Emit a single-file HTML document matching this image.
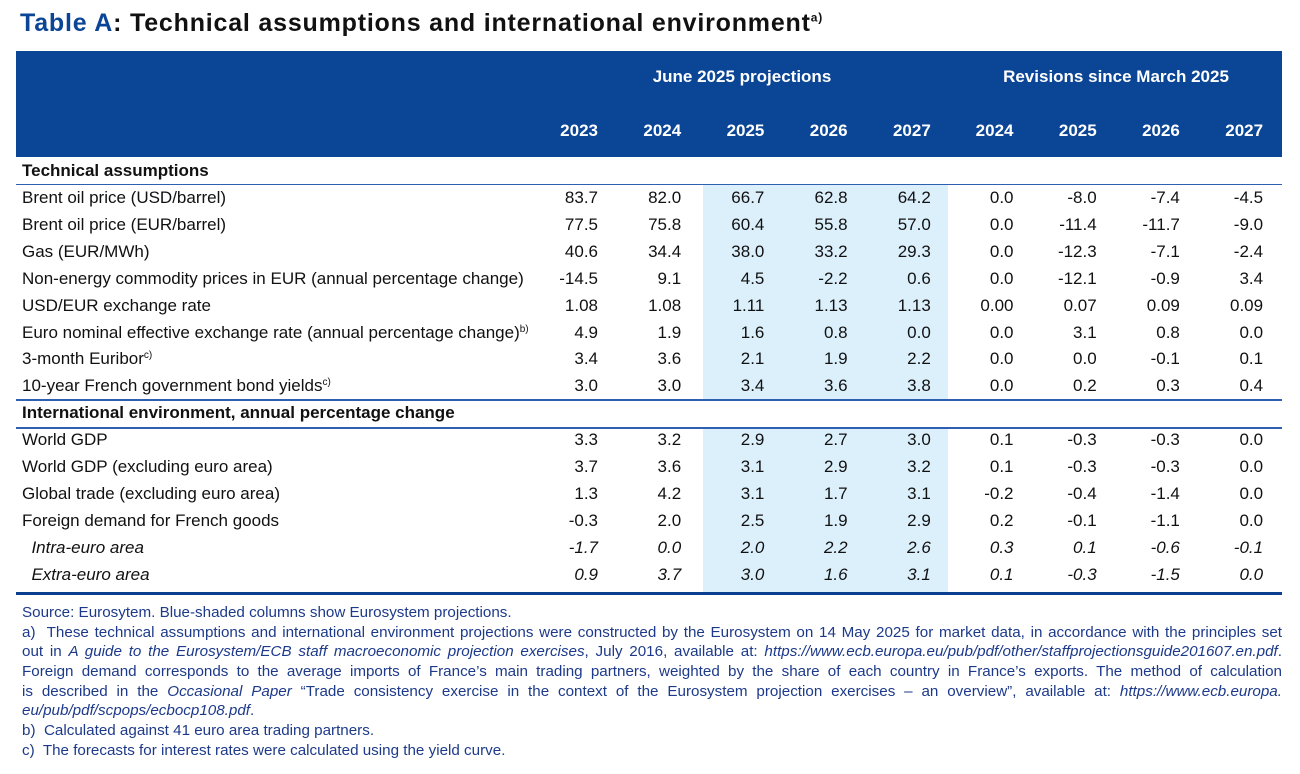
<!DOCTYPE html>
<html><head><meta charset="utf-8"><style>
body{margin:0;width:1300px;height:774px;background:#fff;font-family:"Liberation Sans",Arial,sans-serif;position:relative;overflow:hidden;color:#111}
.a{position:absolute;white-space:nowrap}
.t{font-size:17px;line-height:20px;transform:translateY(-10px)}
.t sup{font-size:10px;line-height:0;vertical-align:6px}
.n{text-align:right;width:100px}
.fn{position:absolute;left:22px;width:1260px;font-size:15.2px;line-height:18px;color:#1d3a8a;white-space:nowrap}
.j{text-align:justify;text-align-last:justify;white-space:normal}
</style></head><body>
<div class="a" style="left:20px;top:9px;font-size:25px;font-weight:bold;letter-spacing:0.8px"><span style="color:#0b4596">Table A</span>: Technical assumptions and international environment<sup style="font-size:12px;line-height:0">a)</sup></div>
<div class="a" style="left:16px;top:51px;width:1266px;height:106px;background:#0b4596"></div>
<div class="a" style="left:703px;top:185px;width:245px;height:214px;background:#dcf0fc"></div>
<div class="a" style="left:703px;top:428px;width:245px;height:164px;background:#dcf0fc"></div>
<div class="a" style="left:642px;top:67px;width:200px;text-align:center;color:#fff;font-weight:bold;font-size:17px">June 2025 projections</div>
<div class="a" style="left:966px;top:67px;width:300px;text-align:center;color:#fff;font-weight:bold;font-size:17px">Revisions since March 2025</div>
<div id="tbl"></div>
<div class="a" style="left:16px;top:184px;width:1266px;height:1px;background:#2f5fb0"></div>
<div class="a" style="left:16px;top:399px;width:1266px;height:1.5px;background:#2f5fb0"></div>
<div class="a" style="left:16px;top:427px;width:1266px;height:1.5px;background:#2f5fb0"></div>
<div class="a" style="left:16px;top:592px;width:1266px;height:2.5px;background:#0b3f8f"></div>

<div class="fn" style="top:604px">Source: Eurosytem. Blue-shaded columns show Eurosystem projections.</div>
<div class="fn j" style="top:624px;height:18px">a)&nbsp; These technical assumptions and international environment projections were constructed by the Eurosystem on 14 May 2025 for market data, in accordance with the principles set</div>
<div class="fn j" style="top:643px;height:18px">out in <i>A guide to the Eurosystem/ECB staff macroeconomic projection exercises</i>, July 2016, available at: <i>https://www.ecb.europa.eu/pub/pdf/other/staffprojectionsguide201607.en.pdf</i>.</div>
<div class="fn j" style="top:663px;height:18px">Foreign demand corresponds to the average imports of France’s main trading partners, weighted by the share of each country in France’s exports. The method of calculation</div>
<div class="fn j" style="top:683px;height:18px">is described in the <i>Occasional Paper</i> “Trade consistency exercise in the context of the Eurosystem projection exercises – an overview”, available at: <i>https://www.ecb.europa.</i></div>
<div class="fn" style="top:702px"><i>eu/pub/pdf/scpops/ecbocp108.pdf</i>.</div>
<div class="fn" style="top:722px">b)&nbsp; Calculated against 41 euro area trading partners.</div>
<div class="fn" style="top:742px">c)&nbsp; The forecasts for interest rates were calculated using the yield curve.</div>

<script>
const years=["2023","2024","2025","2026","2027","2024","2025","2026","2027"];
const labels=["Brent oil price (USD/barrel)","Brent oil price (EUR/barrel)","Gas (EUR/MWh)","Non-energy commodity prices in EUR (annual percentage change)","USD/EUR exchange rate","Euro nominal effective exchange rate (annual percentage change)<sup>b)</sup>","3-month Euribor<sup>c)</sup>","10-year French government bond yields<sup>c)</sup>"];
const values=[
["83.7","82.0","66.7","62.8","64.2","0.0","-8.0","-7.4","-4.5"],
["77.5","75.8","60.4","55.8","57.0","0.0","-11.4","-11.7","-9.0"],
["40.6","34.4","38.0","33.2","29.3","0.0","-12.3","-7.1","-2.4"],
["-14.5","9.1","4.5","-2.2","0.6","0.0","-12.1","-0.9","3.4"],
["1.08","1.08","1.11","1.13","1.13","0.00","0.07","0.09","0.09"],
["4.9","1.9","1.6","0.8","0.0","0.0","3.1","0.8","0.0"],
["3.4","3.6","2.1","1.9","2.2","0.0","0.0","-0.1","0.1"],
["3.0","3.0","3.4","3.6","3.8","0.0","0.2","0.3","0.4"]];
const labels2=["World GDP","World GDP (excluding euro area)","Global trade (excluding euro area)","Foreign demand for French goods","Intra-euro area","Extra-euro area"];
const values2=[
["3.3","3.2","2.9","2.7","3.0","0.1","-0.3","-0.3","0.0"],
["3.7","3.6","3.1","2.9","3.2","0.1","-0.3","-0.3","0.0"],
["1.3","4.2","3.1","1.7","3.1","-0.2","-0.4","-1.4","0.0"],
["-0.3","2.0","2.5","1.9","2.9","0.2","-0.1","-1.1","0.0"],
["-1.7","0.0","2.0","2.2","2.6","0.3","0.1","-0.6","-0.1"],
["0.9","3.7","3.0","1.6","3.1","0.1","-0.3","-1.5","0.0"]];
const colRight=c=>598+c*83.2+(c>=5?-0.5:0);
const T=document.getElementById('tbl');
function mk(html,x,y,cls,style){const d=document.createElement('div');d.className='a t '+cls;d.innerHTML=html;d.style.cssText+=style+';left:'+x+'px;top:'+y+'px';T.appendChild(d);return d;}
years.forEach((y,c)=>{const d=mk(y,colRight(c)-100,131,'n','color:#fff;font-weight:bold');

});
let s=mk('Technical assumptions',22,171,'','font-weight:bold');


let s2=mk('International environment, annual percentage change',22,413,'','font-weight:bold');


function rows(L,V,y0,step,italFrom){L.forEach((l,r)=>{const y=y0+r*step;const it=(italFrom!=null&&r>=italFrom)?'font-style:italic':'';
const lab=mk((it?'&nbsp;&nbsp;':'')+l,22,y,'',it);


V[r].forEach((v,c)=>{const d=mk(v,colRight(c)-100,y,'n',it);

});});}
rows(labels,values,198,26.9,null);
rows(labels2,values2,440,27,4);
</script>
</body></html>
